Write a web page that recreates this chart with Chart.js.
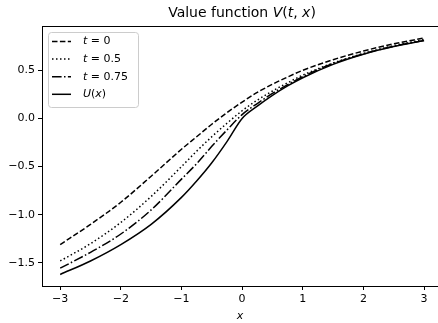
<!DOCTYPE html>
<html>
<head>
<meta charset="utf-8">
<script src="https://cdn.jsdelivr.net/npm/chart.js@4/dist/chart.umd.min.js"></script>
<style>
  html, body { margin: 0; padding: 0; background: #fff; }
  #wrap { width: 438px; height: 323px; }
</style>
</head>
<body>
<div id="wrap"><canvas id="c"></canvas></div>
<script>
// value function chart: V(t,x) for three t and the terminal utility U(x)

const xs = [-3, -2.5, -2, -1.5, -1, -0.75, -0.5, -0.25, 0, 0.25, 0.5, 0.75, 1, 1.5, 2, 2.5, 3];

const vT0   = [-1.31, -1.10, -0.87, -0.60, -0.32, -0.19, -0.06, 0.06, 0.17, 0.27, 0.355, 0.43, 0.50, 0.61, 0.70, 0.775, 0.835];
const vT05  = [-1.48, -1.30, -1.08, -0.81, -0.50, -0.34, -0.19, -0.05, 0.08, 0.19, 0.285, 0.37, 0.45, 0.575, 0.675, 0.755, 0.82];
const vT075 = [-1.555, -1.39, -1.20, -0.95, -0.63, -0.47, -0.29, -0.12, 0.04, 0.155, 0.26, 0.35, 0.435, 0.57, 0.67, 0.75, 0.81];
const uTerm = [-1.62, -1.48, -1.31, -1.10, -0.82, -0.65, -0.46, -0.24, 0.0, 0.128, 0.24, 0.338, 0.423, 0.562, 0.667, 0.747, 0.808];

const xTicks = [-3, -2, -1, 0, 1, 2, 3];
const yTicks = [-1.5, -1.0, -0.5, 0.0, 0.5];

// mathtext-ish pieces: [text, italic]
const titleParts = [['Value function ', false], ['V', true], ['(', false], ['t', true], [', ', false], ['x', true], [')', false]];
const legendParts = [
  [['t', true], [' = 0', false]],
  [['t', true], [' = 0.5', false]],
  [['t', true], [' = 0.75', false]],
  [['U', true], ['(', false], ['x', true], [')', false]],
];

const FONT = '"DejaVu Sans", sans-serif';
const INK = '#000';

const pts = (ys) => xs.map((x, i) => ({ x, y: ys[i] }));
const minus = (s) => String(s).replace('-', '\u2212');

function drawRich(ctx, parts, x, y, size, align) {
  const font = (it) => `${it ? 'oblique ' : ''}${size}px ${FONT}`;
  let total = 0;
  for (const [t, it] of parts) { ctx.font = font(it); total += ctx.measureText(t).width; }
  let cx = align === 'center' ? x - total / 2 : x;
  ctx.textAlign = 'left';
  ctx.textBaseline = 'middle';
  for (const [t, it] of parts) {
    ctx.font = font(it);
    ctx.fillText(t, cx, y);
    cx += ctx.measureText(t).width;
  }
}

const decor = {
  id: 'decor',
  afterDraw(chart) {
    const { ctx, chartArea } = chart;
    ctx.save();
    ctx.fillStyle = INK;
    drawRich(ctx, titleParts, 242, 13, 14, 'center');

    // legend box, upper left
    const bx = chartArea.left + 6, by = chartArea.top + 6, bw = 90, bh = 75;
    ctx.beginPath();
    ctx.roundRect(bx + 0.5, by + 0.5, bw, bh, 3);
    ctx.fillStyle = 'rgba(255,255,255,0.8)';
    ctx.fill();
    ctx.strokeStyle = '#cccccc';
    ctx.lineWidth = 1;
    ctx.stroke();

    chart.data.datasets.forEach((ds, i) => {
      const ry = by + 9.5 + i * 17.6;
      ctx.beginPath();
      ctx.setLineDash(ds.borderDash || []);
      ctx.strokeStyle = ds.borderColor;
      ctx.lineWidth = ds.borderWidth;
      ctx.moveTo(bx + 4, ry);
      ctx.lineTo(bx + 23, ry);
      ctx.stroke();
      ctx.setLineDash([]);
      ctx.fillStyle = INK;
      drawRich(ctx, legendParts[i], bx + 35, ry, 11, 'left');
    });
    ctx.restore();
  },
};

const lineStyle = (dash) => ({
  borderColor: INK, borderWidth: 1.5, borderDash: dash,
  pointRadius: 0, fill: false, cubicInterpolationMode: 'monotone',
});

new Chart(document.getElementById('c'), {
  type: 'line',
  data: {
    datasets: [
      { label: 't = 0', data: pts(vT0), ...lineStyle([5.5, 2.4]) },
      { label: 't = 0.5', data: pts(vT05), ...lineStyle([1.5, 2.5]) },
      { label: 't = 0.75', data: pts(vT075), ...lineStyle([9.6, 2.4, 1.5, 2.4]) },
      { label: 'U(x)', data: pts(uTerm), ...lineStyle([]) },
    ],
  },
  plugins: [decor],
  options: {
    responsive: true, maintainAspectRatio: false, animation: false,
    layout: { padding: 0 },
    plugins: { legend: { display: false }, title: { display: false }, tooltip: { enabled: false } },
    scales: {
      x: {
        type: 'linear', min: -3.3, max: 3.23,
        afterBuildTicks: (s) => { s.ticks = xTicks.map((v) => ({ value: v })); },
        afterFit: (s) => { s.height = 37; },
        ticks: { color: INK, padding: 3, maxRotation: 0, font: { family: FONT, size: 11 }, callback: (v) => minus(v) },
        grid: { drawOnChartArea: false, drawTicks: true, tickLength: 4, color: INK },
        border: { color: INK, width: 1 },
        title: { display: true, text: 'x', color: INK, padding: 0, font: { family: FONT, size: 11, style: 'oblique' } },
      },
      xTop: {
        type: 'linear', position: 'top', min: -3.3, max: 3.23,
        afterFit: (s) => { s.height = 26; },
        ticks: { display: false },
        grid: { display: false },
        border: { display: true, color: INK, width: 1 },
      },
      y: {
        type: 'linear', min: -1.74, max: 0.96,
        afterBuildTicks: (s) => { s.ticks = yTicks.map((v) => ({ value: v })); },
        afterFit: (s) => { s.width = 42; },
        ticks: { color: INK, padding: 3, font: { family: FONT, size: 11 }, callback: (v) => minus(Number(v).toFixed(1)) },
        grid: { drawOnChartArea: false, drawTicks: true, tickLength: 4, color: INK },
        border: { color: INK, width: 1 },
      },
    },
  },
});
</script>
</body>
</html>
